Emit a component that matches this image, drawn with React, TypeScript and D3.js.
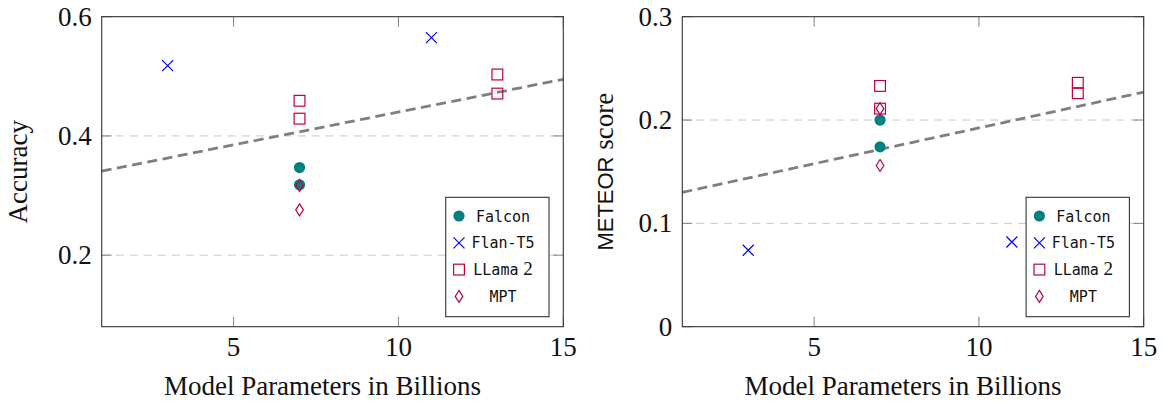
import React from "react";
import * as d3 from "d3";

// ---------- data ----------
const seriesNames = ["Falcon", "Flan-T5", "LLama 2", "MPT"];

const falconX = [7, 7];
const falconAcc = [0.347, 0.318];
const falconMet = [0.2, 0.174];

const flanX = [3, 11];
const flanAcc = [0.518, 0.565];
const flanMet = [0.074, 0.082];

const llamaX = [7, 7, 13, 13];
const llamaAcc = [0.459, 0.429, 0.503, 0.471];
const llamaMet = [0.233, 0.211, 0.236, 0.226];

const mptX = [7, 7];
const mptAcc = [0.317, 0.276];
const mptMet = [0.211, 0.156];

const trendX = [1, 15];
const trendAcc = [0.341, 0.495];
const trendMet = [0.13, 0.227];

const xTicks = [5, 10, 15];
const accTicks = [0.2, 0.4, 0.6];
const metTicks = [0, 0.1, 0.2, 0.3];

const xLabel = "Model Parameters in Billions";

// ---------- styles ----------
const SERIF = "'Liberation Serif', 'Times New Roman', serif";
const SANS = "'Liberation Sans', Arial, sans-serif";
const MONO = "'DejaVu Sans Mono', monospace";
const TEAL = "#008080";
const BLUE = "#0000ff";
const PURPLE = "#bf0040";

type Panel = {
  left: number;
  right: number;
  yDomain: [number, number];
  yTicks: number[];
  yFmt: (v: number) => string;
  falcon: number[];
  flan: number[];
  llama: number[];
  mpt: number[];
  trend: number[];
  yLabel: React.ReactNode;
  yLabelX: number;
};

const TOP = 16.7;
const BOTTOM = 326.7;

function Marker({ kind, x, y }: { kind: number; x: number; y: number }) {
  if (kind === 0) return <circle cx={x} cy={y} r={5.6} fill={TEAL} />;
  if (kind === 1) {
    const s = 5.5;
    return (
      <path
        d={`M${x - s},${y - s}L${x + s},${y + s}M${x - s},${y + s}L${x + s},${y - s}`}
        stroke={BLUE}
        strokeWidth={1.2}
        fill="none"
      />
    );
  }
  if (kind === 2) {
    const s = 5.4;
    return <rect x={x - s} y={y - s} width={2 * s} height={2 * s} fill="none" stroke={PURPLE} strokeWidth={1.2} />;
  }
  const w = 3.8;
  const h = 6;
  return (
    <path
      d={`M${x},${y - h}L${x + w},${y}L${x},${y + h}L${x - w},${y}Z`}
      fill="none"
      stroke={PURPLE}
      strokeWidth={1.2}
    />
  );
}

function PanelView({ p }: { p: Panel }) {
  const x = d3.scaleLinear().domain([1, 15]).range([p.left, p.right]);
  const y = d3.scaleLinear().domain(p.yDomain).range([BOTTOM, TOP]);
  const line = d3
    .line<number>()
    .x((_, i) => x(trendX[i]))
    .y((d) => y(d));

  const legW = 103.3;
  const legH = 119.4;
  const legL = p.right - 14.3 - legW;
  const legT = BOTTOM - 10 - legH;

  const pts: { kind: number; xs: number[]; ys: number[] }[] = [
    { kind: 0, xs: falconX, ys: p.falcon },
    { kind: 1, xs: flanX, ys: p.flan },
    { kind: 2, xs: llamaX, ys: p.llama },
    { kind: 3, xs: mptX, ys: p.mpt },
  ];

  return (
    <g>
      {/* grid */}
      {p.yTicks
        .filter((t) => t > p.yDomain[0] + 1e-9 && t < p.yDomain[1] - 1e-9)
        .map((t) => (
          <line
            key={"g" + t}
            x1={p.left}
            x2={p.right}
            y1={y(t)}
            y2={y(t)}
            stroke="#c8c8c8"
            strokeWidth={1}
            strokeDasharray="8,6"
          />
        ))}
      {/* ticks */}
      {xTicks.map((t) => (
        <g key={"xt" + t}>
          <line x1={x(t)} x2={x(t)} y1={BOTTOM} y2={BOTTOM - 10} stroke="#808080" strokeWidth={1} />
          <line x1={x(t)} x2={x(t)} y1={TOP} y2={TOP + 10} stroke="#808080" strokeWidth={1} />
          <text
            x={x(t)}
            y={BOTTOM + 29.5}
            textAnchor="middle"
            fontFamily={SERIF}
            fontSize={27}
            fill="#111"
          >
            {t}
          </text>
        </g>
      ))}
      {p.yTicks.map((t) => (
        <g key={"yt" + t}>
          <line x1={p.left} x2={p.left + 10} y1={y(t)} y2={y(t)} stroke="#808080" strokeWidth={1} />
          <line x1={p.right} x2={p.right - 10} y1={y(t)} y2={y(t)} stroke="#808080" strokeWidth={1} />
          <text
            x={p.left - 10}
            y={y(t) + 9}
            textAnchor="end"
            fontFamily={SERIF}
            fontSize={27}
            fill="#111"
          >
            {p.yFmt(t)}
          </text>
        </g>
      ))}
      {/* trend */}
      <path d={line(p.trend) || ""} fill="none" stroke="#7f7f7f" strokeWidth={2.8} strokeDasharray="10,5.5" />
      {/* markers */}
      {pts.map((s) =>
        s.ys.map((v, i) => <Marker key={s.kind + "-" + i} kind={s.kind} x={x(s.xs[i])} y={y(v)} />)
      )}
      {/* frame */}
      <rect
        x={p.left}
        y={TOP}
        width={p.right - p.left}
        height={BOTTOM - TOP}
        fill="none"
        stroke="#333"
        strokeWidth={1.1}
      />
      {/* legend */}
      <rect x={legL} y={legT} width={legW} height={legH} fill="#fff" stroke="#333" strokeWidth={1.1} />
      {seriesNames.map((name, i) => {
        const ry = legT + 18.7 + i * 26.8;
        return (
          <g key={name}>
            <Marker kind={i} x={legL + 13.3} y={ry} />
            <text
              x={legL + 57.3}
              y={ry + 5.5}
              textAnchor="middle"
              fontFamily={MONO}
              fontSize={15}
              fill="#111"
            >
              {name === "LLama 2" ? (
                <>
                  <tspan>LLama</tspan>
                  <tspan fontFamily={SERIF} fontSize={19}> 2</tspan>
                </>
              ) : (
                name
              )}
            </text>
          </g>
        );
      })}
      {/* axis labels */}
      <text
        x={(p.left + p.right) / 2 - 10}
        y={395}
        textAnchor="middle"
        fontFamily={SERIF}
        fontSize={27}
        fill="#111"
      >
        {xLabel}
      </text>
      <text
        transform={`translate(${p.yLabelX},${(TOP + BOTTOM) / 2}) rotate(-90)`}
        textAnchor="middle"
        fontFamily={SERIF}
        fontSize={27}
        fill="#111"
      >
        {p.yLabel}
      </text>
    </g>
  );
}

export default function App() {
  const fmt1 = (v: number) => (v === 0 ? "0" : d3.format(".1f")(v));
  const left: Panel = {
    left: 101.7,
    right: 563.3,
    yDomain: [0.08, 0.6],
    yTicks: accTicks,
    yFmt: fmt1,
    falcon: falconAcc,
    flan: flanAcc,
    llama: llamaAcc,
    mpt: mptAcc,
    trend: trendAcc,
    yLabel: "Accuracy",
    yLabelX: 27,
  };
  const right: Panel = {
    left: 682.3,
    right: 1143.7,
    yDomain: [0, 0.3],
    yTicks: metTicks,
    yFmt: fmt1,
    falcon: falconMet,
    flan: flanMet,
    llama: llamaMet,
    mpt: mptMet,
    trend: trendMet,
    yLabel: (
      <>
        <tspan fontFamily={SANS} fontSize={22}>METEOR</tspan>
        <tspan> score</tspan>
      </>
    ),
    yLabelX: 613,
  };
  return (
    <svg
      width={1163}
      height={403}
      style={{ position: "absolute", left: 0, top: 0, background: "#fff" }}
    >
      <rect width={1163} height={403} fill="#fff" />
      <PanelView p={left} />
      <PanelView p={right} />
    </svg>
  );
}
